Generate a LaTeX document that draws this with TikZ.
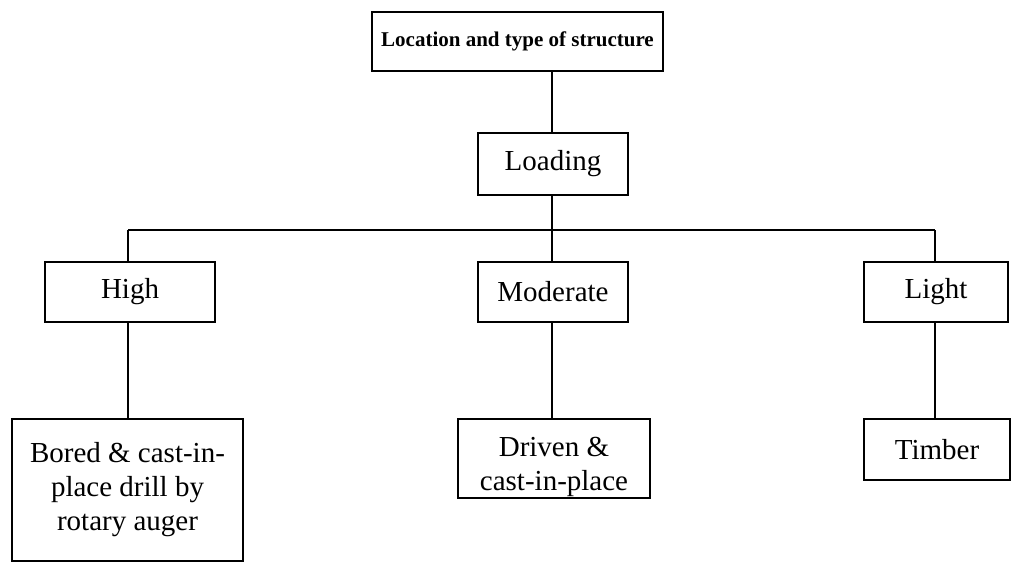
\documentclass[tikz,border=0pt]{standalone}
\usepackage{fontspec}
\setmainfont{Liberation Serif}
\usepackage{tikz}

\begin{document}
\begin{tikzpicture}
  [x=1pt,y=-1pt,
  box/.style={rectangle,draw=black,line width=1.6pt,align=center,
                  outer sep=0,inner sep=0,font=\fontsize{29}{34}\selectfont},
  title/.style={box,font=\fontsize{21}{25}\selectfont\bfseries},
  link/.style={draw=black,line width=1.6pt}
                  ]
  \useasboundingbox (0,0) rectangle (1016,563);

  \node[title,minimum width=291,minimum height=59] (loc) at (517.5,41.5) {Location and type of structure};
  \node[box,minimum width=150,minimum height=62] (load) at (553,164) {Loading};
  \node[box,minimum width=170,minimum height=60] (high) at (130,292) {High};
  \node[box,minimum width=150,minimum height=60] (mod) at (553,292) {Moderate};
  \node[box,minimum width=144,minimum height=60] (light) at (936,292) {Light};
  \node[box,minimum width=231,minimum height=142] (bored) at (127.5,490) {Bored \& cast-in-\\place drill by\\rotary auger};
  % strut pushes the two lines a little lower in the box
  \node[box,minimum width=192,minimum height=79] (driven) at (554,458.5) {\rule{0pt}{36pt}Driven \&\\cast-in-place};
  \node[box,minimum width=146,minimum height=61] (timber) at (937,449.5) {Timber};
  \coordinate (bushigh) at (128,230);
  \coordinate (busmid) at (552,230);
  \coordinate (buslight) at (935,230);

  \draw[link] (loc.south -| busmid) to (load.north -| busmid);
  \draw[link] (load.south -| busmid) to (busmid);
  \draw[link] (bushigh) to (buslight);
  \draw[link] (bushigh) to (high.north -| bushigh);
  \draw[link] (busmid) to (mod.north -| busmid);
  \draw[link] (buslight) to (light.north -| buslight);
  \draw[link] (high.south -| bushigh) to (bored.north -| bushigh);
  \draw[link] (mod.south -| busmid) to (driven.north -| busmid);
  \draw[link] (light.south -| buslight) to (timber.north -| buslight);
\end{tikzpicture}
\end{document}
